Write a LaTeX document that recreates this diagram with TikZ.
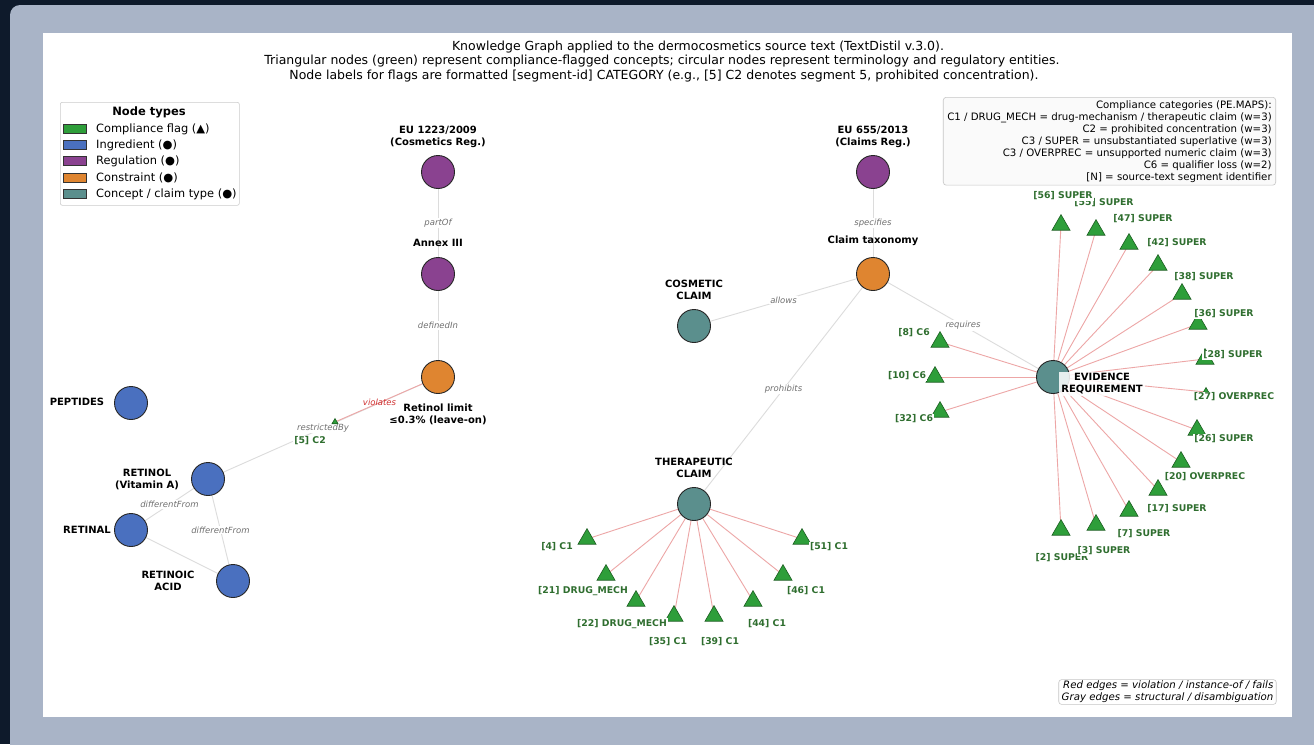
\documentclass[tikz,border=0pt]{standalone}
\usepackage{fontspec}
\setmainfont{DejaVu Sans}
\usetikzlibrary{shapes.geometric}
\definecolor{darkbg}{HTML}{0E1A2B}
\definecolor{panel}{HTML}{A9B4C7}
\definecolor{cFlag}{HTML}{2E9E3A}
\definecolor{cFlagE}{HTML}{1B5E20}
\definecolor{cIng}{HTML}{4A70BF}
\definecolor{cReg}{HTML}{8A4290}
\definecolor{cCon}{HTML}{DF8530}
\definecolor{cConc}{HTML}{5B8F8D}
\definecolor{lblGreen}{HTML}{2F6E2F}
\definecolor{redE}{HTML}{EDA6A6}
\definecolor{grayE}{HTML}{DCDCDC}
\definecolor{elblc}{HTML}{707070}
\definecolor{redlbl}{HTML}{D03030}
\pgfdeclarelayer{back}
\pgfdeclarelayer{edges}
\pgfsetlayers{back,edges,main}
\tikzset{
  circ/.style={circle, draw=black!85, line width=0.9pt, minimum size=33pt, inner sep=0pt},
  ingr/.style={circ, fill=cIng},
  regn/.style={circ, fill=cReg},
  cons/.style={circ, fill=cCon},
  conc/.style={circ, fill=cConc},
  flag/.style={regular polygon, regular polygon sides=3, draw=cFlagE, fill=cFlag, line width=0.6pt, minimum size=20.8pt, inner sep=0pt, outer sep=0pt},
  smallflag/.style={flag, minimum size=9pt},
  tinyflag/.style={flag, minimum size=7pt},
  nlbl/.style={font=\bfseries\fontsize{10}{12}\selectfont, align=center, text=black},
  flbl/.style={font=\bfseries\fontsize{9.3}{10}\selectfont, text=lblGreen, fill=white, inner sep=1pt},
  elbl/.style={font=\itshape\fontsize{8.5}{10}\selectfont, text=elblc, fill=white, inner sep=1pt},
  ttl/.style={font=\fontsize{12.5}{14.5}\selectfont, inner sep=0pt},
  gedge/.style={draw=grayE, line width=0.9pt},
  redge/.style={draw=redE, line width=0.9pt},
  legpatch/.style={draw=black!80, line width=0.6pt},
}
\begin{document}
\begin{tikzpicture}[x=1pt,y=-1pt]
\useasboundingbox (0,0) rectangle (1314,744);
\begin{pgfonlayer}{back}
\fill[darkbg] (0,0) rectangle (1314,744);
\fill[panel, rounded corners=10pt] (10,5) rectangle (1340,770);
\fill[white] (43,33) rectangle (1292,717);
\end{pgfonlayer}

% title
\node[ttl] (title1) at (698,47) {Knowledge Graph applied to the dermocosmetics source text (TextDistil v.3.0).};
\node[ttl] (title2) at (662,61.5) {Triangular nodes (green) represent compliance-flagged concepts; circular nodes represent terminology and regulatory entities.};
\node[ttl] (title3) at (664,76) {Node labels for flags are formatted [segment-id] CATEGORY (e.g., [5] C2 denotes segment 5, prohibited concentration).};

% legend
\node[draw=gray!40, rounded corners=2pt, line width=0.6pt, minimum width=179pt, minimum height=103pt, anchor=north west, inner sep=0pt] (legend) at (60,102) {};
\node[font=\bfseries\fontsize{11.5}{13}\selectfont] (legt) at (149,112) {Node types};
\foreach \c/\y/\t [count=\i] in {cFlag/129/{Compliance flag (▲)}, cIng/145/{Ingredient (●)}, cReg/161/{Regulation (●)}, cCon/178/{Constraint (●)}, cConc/194/{Concept / claim type (●)}}{
  \node[legpatch, fill=\c, minimum width=23pt, minimum height=8.5pt, inner sep=0pt] (lp\i) at (75,\y) {};
  \node[anchor=west, font=\fontsize{11.4}{13}\selectfont, inner sep=0pt] (lt\i) at (96,\y) {\t};
}

% compliance box
\node[draw=gray!45, fill=gray!4, rounded corners=3pt, line width=0.6pt, anchor=north east, align=right, font=\fontsize{10.2}{12}\selectfont, inner xsep=4pt, inner ysep=3pt] (comp) at (1276,97)
 {Compliance categories (PE.MAPS):\\
  C1 / DRUG\_MECH = drug-mechanism / therapeutic claim (w=3)\\
  C2 = prohibited concentration (w=3)\\
  C3 / SUPER = unsubstantiated superlative (w=3)\\
  C3 / OVERPREC = unsupported numeric claim (w=3)\\
  C6 = qualifier loss (w=2)\\
  {[N]} = source-text segment identifier};

% note box
\node[draw=gray!45, fill=white, rounded corners=3pt, line width=0.6pt, align=right, font=\itshape\fontsize{10.2}{12}\selectfont, inner xsep=3pt, inner ysep=1.5pt] (note) at (1167.5,692)
 {Red edges = violation / instance-of / fails\\Gray edges = structural / disambiguation};

% circle nodes
\node[regn] (eu1223) at (438,172) {};
\node[regn] (annex) at (438,274) {};
\node[cons] (retlim) at (438,377) {};
\node[regn] (eu655) at (873,172) {};
\node[cons] (tax) at (873,274) {};
\node[conc] (cosm) at (694,326) {};
\node[conc] (ther) at (694,504) {};
\node[conc] (evid) at (1053,377) {};
\node[ingr] (pept) at (131,403) {};
\node[ingr] (retinol) at (208,479) {};
\node[ingr] (retinal) at (131,530) {};
\node[ingr] (retacid) at (233,581) {};

% flag triangles
\node[tinyflag] (f5) at (335,422) {};
\foreach \n/\x/\y in {4/587/539, 21/606/575, 22/636/601, 35/674/616, 39/714/616, 44/753/601, 46/783/575, 51/802/539}{
  \node[flag] (t\n) at (\x,\y) {};
}
\foreach \n/\x/\y in {56/1061/225, 55/1096/230, 47/1129/244, 42/1158/265, 38/1182/294, 36/1198/324, 28/1205/359, 26/1197/430, 20/1181/462, 17/1158/490, 7/1129/511, 3/1096/525, 2/1061/530, 8/940/342, 10/935/377, 32/940/412}{
  \node[flag] (e\n) at (\x,\y) {};
}
\node[smallflag] (e27) at (1206,392) {};

% edges
\begin{pgfonlayer}{edges}
\draw[gedge] (eu1223) -- node[elbl]{partOf} (annex);
\draw[gedge] (annex) -- node[elbl]{definedIn} (retlim);
\draw[gedge] (retinol) -- node[elbl, pos=0.5]{restrictedBy} (retlim);
\draw[gedge] (retinol) -- node[elbl]{differentFrom} (retinal);
\draw[gedge] (retinol) -- node[elbl]{differentFrom} (retacid);
\draw[gedge] (retinal) -- (retacid);
\draw[gedge] (eu655) -- node[elbl]{specifies} (tax);
\draw[gedge] (tax) -- node[elbl]{allows} (cosm);
\draw[gedge] (tax) -- node[elbl]{prohibits} (ther);
\draw[gedge] (tax) -- node[elbl]{requires} (evid);
\draw[redge] (f5) -- node[font=\itshape\fontsize{8.5}{10}\selectfont, text=redlbl, inner sep=1pt, pos=0.5]{violates} (retlim);
\foreach \n in {4,21,22,35,39,44,46,51}{ \draw[redge] (ther) -- (t\n); }
\foreach \n in {56,55,47,42,38,36,28,27,26,20,17,7,3,2,8,10,32}{ \draw[redge] (evid) -- (e\n); }
\end{pgfonlayer}

% node labels
\node[nlbl] (eu1223l) at (438,137) {EU 1223/2009\\(Cosmetics Reg.)};
\node[nlbl] (annexl) at (438,243) {Annex III};
\node[nlbl] (retliml) at (438,414.5) {Retinol limit\\≤0.3\% (leave-on)};
\node[nlbl] (eu655l) at (873,137) {EU 655/2013\\(Claims Reg.)};
\node[nlbl] (taxl) at (873,241) {Claim taxonomy};
\node[nlbl] (cosml) at (694,289.5) {COSMETIC\\CLAIM};
\node[nlbl] (therl) at (694,468) {THERAPEUTIC\\CLAIM};
\node[nlbl, fill=white, fill opacity=0.85, text opacity=1, inner sep=2pt] (evidl) at (1102,384) {EVIDENCE\\REQUIREMENT};
\node[nlbl] (peptl) at (77,402) {PEPTIDES};
\node[nlbl] (retinoll) at (147,479.5) {RETINOL\\(Vitamin A)};
\node[nlbl] (retinall) at (87,530) {RETINAL};
\node[nlbl] (retacidl) at (168,581) {RETINOIC\\ACID};

% flag labels
\node[flbl] (f5l) at (310,441) {[5] C2};
\node[flbl] (t4l) at (557,547) {[4] C1};
\node[flbl] (t21l) at (583,591) {[21] DRUG\_MECH};
\node[flbl] (t22l) at (622,624) {[22] DRUG\_MECH};
\node[flbl] (t35l) at (668,642) {[35] C1};
\node[flbl] (t39l) at (720,642) {[39] C1};
\node[flbl] (t44l) at (767,624) {[44] C1};
\node[flbl] (t46l) at (806,591) {[46] C1};
\node[flbl] (t51l) at (829,547) {[51] C1};
\node[flbl] (e55l) at (1104,203) {[55] SUPER};
\node[flbl] (e56l) at (1063,196) {[56] SUPER};
\node[flbl] (e47l) at (1143,219) {[47] SUPER};
\node[flbl] (e42l) at (1177,243) {[42] SUPER};
\node[flbl] (e38l) at (1204,277) {[38] SUPER};
\node[flbl] (e36l) at (1224,314) {[36] SUPER};
\node[flbl] (e28l) at (1233,355) {[28] SUPER};
\node[flbl] (e27l) at (1234,397) {[27] OVERPREC};
\node[flbl] (e26l) at (1224,439) {[26] SUPER};
\node[flbl] (e20l) at (1205,477) {[20] OVERPREC};
\node[flbl] (e17l) at (1177,509) {[17] SUPER};
\node[flbl] (e7l) at (1144,534) {[7] SUPER};
\node[flbl] (e2l) at (1062,558) {[2] SUPER};
\node[flbl] (e3l) at (1104,551) {[3] SUPER};
\node[flbl] (e8l) at (914,333) {[8] C6};
\node[flbl] (e10l) at (907,376) {[10] C6};
\node[flbl] (e32l) at (914,419) {[32] C6};
\end{tikzpicture}
\end{document}
